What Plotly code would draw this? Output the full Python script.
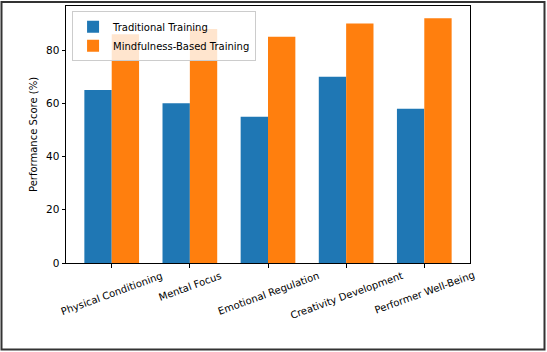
import plotly.graph_objects as go

categories = ["Physical Conditioning", "Mental Focus", "Emotional Regulation",
              "Creativity Development", "Performer Well-Being"]
traditional = [65, 60, 55, 70, 58]
mindfulness = [86, 88, 85, 90, 92]
series_names = ["Traditional Training", "Mindfulness-Based Training"]
y_ticks = [0, 20, 40, 60, 80]

W, H = 547, 352
ML, MR, MT, MB = 66, 77, 6, 89
PW, PH = W - ML - MR, H - MT - MB

fig = go.Figure()
fig.add_trace(go.Bar(x=categories, y=traditional, name=series_names[0],
                     marker=dict(color="#1f77b4", line=dict(width=0))))
fig.add_trace(go.Bar(x=categories, y=mindfulness, name=series_names[1],
                     marker=dict(color="#ff7f0e", line=dict(width=0))))

font = dict(family="DejaVu Sans", size=10, color="#000000")

# rotated, centered category labels (matplotlib style)
for c in categories:
    fig.add_annotation(x=c, y=0, xref="x", yref="paper", text=c, showarrow=False,
                       textangle=-20, xanchor="center", yanchor="top", yshift=-4,
                       font=font)

def px_to_paper_x(px):
    return (px - ML) / PW

def px_to_paper_y(py):
    return (H - MB - py) / PH

fig.add_shape(type="rect", xref="paper", yref="paper",
              x0=px_to_paper_x(1.5), x1=px_to_paper_x(544.5),
              y0=px_to_paper_y(349.5), y1=px_to_paper_y(2),
              line=dict(color="#333333", width=2), fillcolor="rgba(0,0,0,0)", layer="above")

fig.update_layout(
    width=W, height=H,
    margin=dict(l=ML, r=MR, t=MT, b=MB, pad=0),
    paper_bgcolor="white", plot_bgcolor="white",
    font=font,
    barmode="group", bargap=0.3, bargroupgap=0,
    showlegend=True,
    legend=dict(x=0.015, y=0.98, xanchor="left", yanchor="top",
                bgcolor="rgba(255,255,255,0.8)", bordercolor="#cccccc", borderwidth=1,
                font=dict(family="DejaVu Sans", size=10, color="#000000"),
                itemsizing="constant", tracegroupgap=0),
    xaxis=dict(range=[-0.585, 4.585], showgrid=False, showline=True, mirror=True,
               linecolor="#000000", linewidth=1, ticks="outside", ticklen=3.5,
               tickcolor="#000000", showticklabels=False, zeroline=False),
    yaxis=dict(range=[0, 96.6], tickvals=y_ticks, showgrid=False, showline=True,
               mirror=True, linecolor="#000000", linewidth=1, ticks="outside",
               ticklen=3.5, tickcolor="#000000", zeroline=False,
               tickfont=dict(family="DejaVu Sans", size=10.5, color="#000000"),
               title=dict(text="Performance Score (%)", font=font, standoff=6)),
)

fig.write_html("out.html")
